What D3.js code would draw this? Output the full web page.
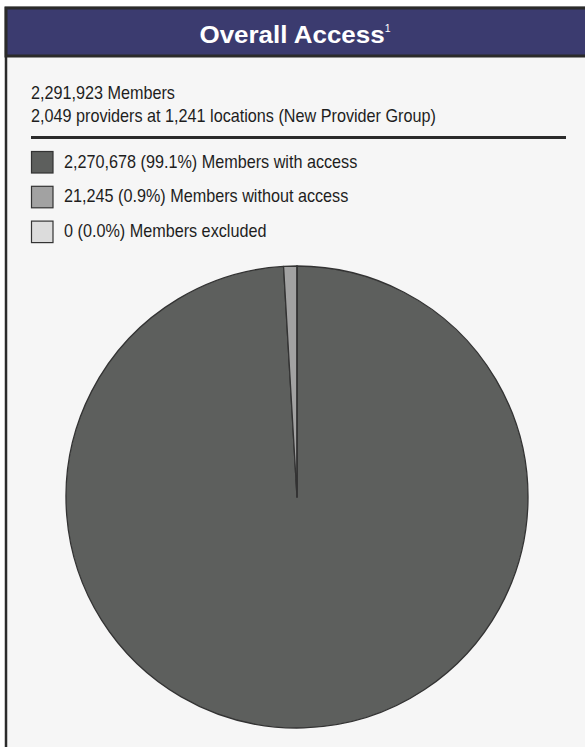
<!DOCTYPE html>
<html>
<head>
<meta charset="utf-8">
<script src="https://cdn.jsdelivr.net/npm/d3@7"></script>
<style>
  html, body { margin: 0; padding: 0; background: #ffffff; }
  svg { display: block; }
</style>
</head>
<body>
<svg id="chart" width="585" height="747"></svg>
<script>
// Member access breakdown
const categories = ["Members with access", "Members without access", "Members excluded"];
const memberCounts = [2270678, 21245, 0];
const percentLabels = ["99.1%", "0.9%", "0.0%"];
const sliceColors = ["#5d5f5d", "#a2a2a2", "#dcdcdc"];

const titleText = "Overall Access";
const footnoteMark = "1";
const summaryLines = [
  "2,291,923 Members",
  "2,049 providers at 1,241 locations (New Provider Group)"
];

const svg = d3.select("#chart");
const W = 585, H = 747;
const sans = "'Liberation Sans', Arial, Helvetica, sans-serif";
const squeeze = 0.9;   // condensed body lettering

// panel body and frame
svg.append("rect").attr("x", 6).attr("y", 8).attr("width", W + 10).attr("height", H)
  .attr("fill", "#f6f6f6").attr("stroke", "#2b2b2b").attr("stroke-width", 2.5);

// title bar
svg.append("rect").attr("x", 6).attr("y", 8).attr("width", W + 10).attr("height", 48)
  .attr("fill", "#3b3b6f").attr("stroke", "#2b2b2b").attr("stroke-width", 3);

const title = svg.append("g")
  .attr("transform", "translate(295, 43) scale(1.06, 1)")
  .append("text")
  .attr("text-anchor", "middle")
  .attr("fill", "#ffffff")
  .attr("font-family", sans)
  .attr("font-weight", "bold")
  .attr("font-size", 24.5);
title.append("tspan").text(titleText);
title.append("tspan").attr("font-size", 10).attr("font-weight", "normal").attr("dy", -11).text(footnoteMark);

// summary text
svg.selectAll("g.summary").data(summaryLines).join("g")
  .attr("class", "summary")
  .attr("transform", (d, i) => `translate(31, ${99 + i * 23}) scale(${squeeze}, 1)`)
  .append("text")
  .attr("fill", "#1e1e1e")
  .attr("font-family", sans)
  .attr("font-size", 18)
  .text(d => d);

// divider rule
svg.append("line").attr("x1", 31).attr("x2", 566).attr("y1", 137.5).attr("y2", 137.5)
  .attr("stroke", "#2b2b2b").attr("stroke-width", 3);

// legend
const fmt = d3.format(",");
const legend = svg.selectAll("g.legend").data(categories).join("g")
  .attr("class", "legend")
  .attr("transform", (d, i) => `translate(31, ${151 + i * 34.8})`);
legend.append("rect")
  .attr("x", 0.5).attr("y", 0.5).attr("width", 21.5).attr("height", 21.5)
  .attr("fill", (d, i) => sliceColors[i])
  .attr("stroke", "#333").attr("stroke-width", 1.2);
legend.append("g")
  .attr("transform", `translate(33, 16.5) scale(${squeeze}, 1)`)
  .append("text")
  .attr("fill", "#1e1e1e")
  .attr("font-family", sans)
  .attr("font-size", 18)
  .text((d, i) => `${fmt(memberCounts[i])} (${percentLabels[i]}) ${d}`);

// pie
const radius = 231;
const pie = d3.pie().sort(null).value(d => d)(memberCounts);
const arc = d3.arc().innerRadius(0).outerRadius(radius);
svg.append("g")
  .attr("transform", "translate(297, 497)")
  .selectAll("path").data(pie).join("path")
  .attr("d", arc)
  .attr("fill", (d, i) => sliceColors[i])
  .attr("stroke", "#333")
  .attr("stroke-width", 1.3)
  .attr("stroke-linejoin", "round");
</script>
</body>
</html>
